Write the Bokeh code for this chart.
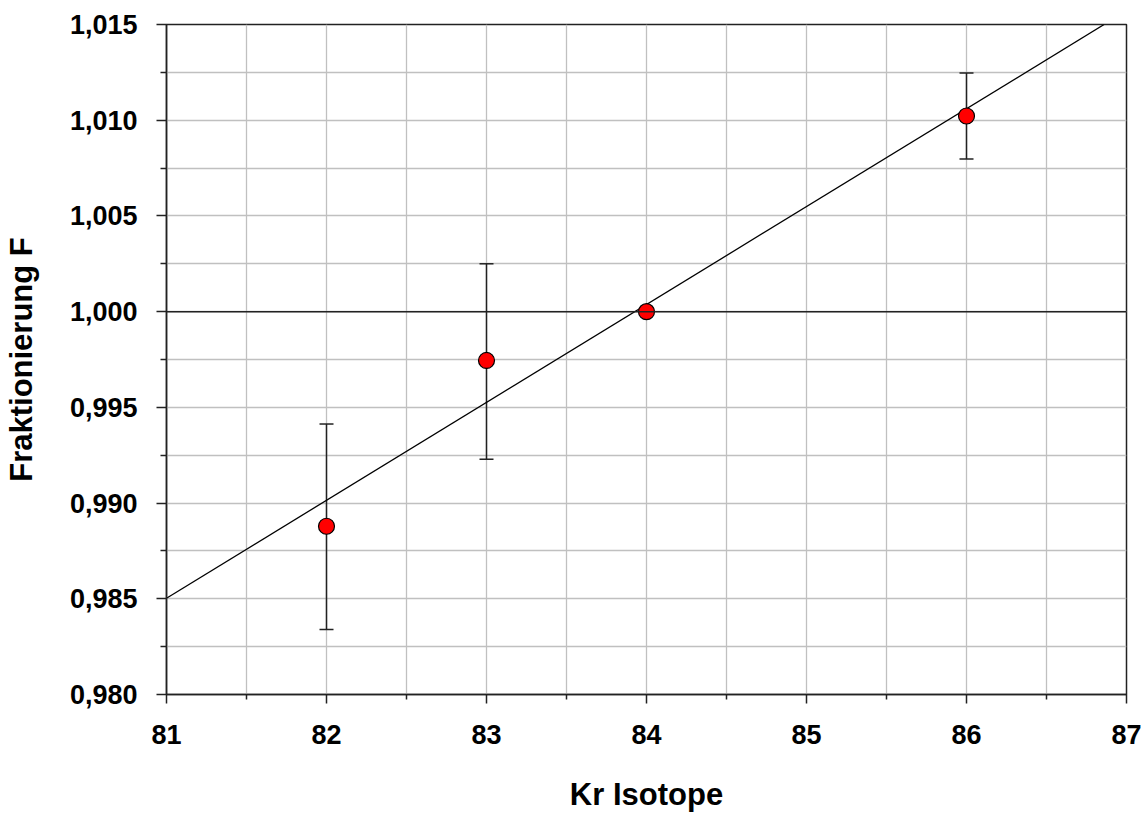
import numpy as np
from bokeh.plotting import figure
from bokeh.models import (ColumnDataSource, Whisker, TeeHead, Span, FixedTicker,
                          CustomJSTickFormatter, Range1d)
from bokeh.embed import file_html
from bokeh.resources import INLINE

# Data
isotopes = [82, 83, 84, 86]
fraction = [0.98879, 0.99745, 1.0000, 1.01022]
err_upper = [0.99413, 1.0025, 1.0000, 1.01247]
err_lower = [0.98340, 0.99229, 1.0000, 1.00797]

# Regression line endpoints
fit_x = [81.0, 86.86]
fit_y = [0.98503, 1.01500]

x_major = [81, 82, 83, 84, 85, 86, 87]
x_minor = [81.5, 82.5, 83.5, 84.5, 85.5, 86.5]
y_major = [0.980, 0.985, 0.990, 0.995, 1.000, 1.005, 1.010, 1.015]
y_minor = [0.9825, 0.9875, 0.9925, 0.9975, 1.0025, 1.0075, 1.0125]

FONT = "Liberation Sans"

p = figure(width=1147, height=814, output_backend="svg", toolbar_location=None,
           x_range=Range1d(81, 87), y_range=Range1d(0.980, 1.015),
           min_border_left=165, min_border_right=21, min_border_top=24,
           min_border_bottom=118)
p.background_fill_color = "white"
p.border_fill_color = "white"
p.outline_line_color = "#222222"
p.outline_line_width = 1.5

p.xaxis.ticker = FixedTicker(ticks=x_major, minor_ticks=x_minor)
p.yaxis.ticker = FixedTicker(ticks=y_major, minor_ticks=y_minor)
p.yaxis.formatter = CustomJSTickFormatter(code="return tick.toFixed(3).replace('.', ',');")

for ax in (p.xaxis, p.yaxis):
    ax.axis_line_color = "#222222"
    ax.axis_line_width = 1.5
    ax.major_tick_line_color = "#222222"
    ax.minor_tick_line_color = "#222222"
    ax.major_tick_line_width = 1.5
    ax.minor_tick_line_width = 1.5
    ax.major_tick_in = 0
    ax.minor_tick_in = 0
    ax.major_label_text_font = FONT
    ax.major_label_text_font_style = "bold"
    ax.major_label_text_font_size = "27px"
    ax.major_label_text_color = "black"
    ax.axis_label_text_font = FONT
    ax.axis_label_text_font_style = "bold"
    ax.axis_label_text_font_size = "31px"
    ax.axis_label_text_color = "black"

p.xaxis.major_tick_out = 9
p.xaxis.minor_tick_out = 5
p.yaxis.major_tick_out = 10
p.yaxis.minor_tick_out = 6
p.xaxis.major_label_standoff = 21
p.yaxis.major_label_standoff = 19
p.xaxis.axis_label_standoff = 30
p.yaxis.axis_label_standoff = 28
p.xaxis.axis_label = "Kr Isotope"
p.yaxis.axis_label = "Fraktionierung F"

for g in (p.xgrid, p.ygrid):
    g.grid_line_color = "#c0c0c0"
    g.grid_line_width = 1.3
    g.minor_grid_line_color = "#c0c0c0"
    g.minor_grid_line_width = 1.3

p.add_layout(Span(location=1.0, dimension="width", line_color="#222222", line_width=1.5))

p.line(fit_x, fit_y, line_color="black", line_width=1.3)

src = ColumnDataSource(dict(x=isotopes, y=fraction, upper=err_upper, lower=err_lower))
wh = Whisker(source=src, base="x", upper="upper", lower="lower",
             line_color="#222222", line_width=1.5,
             upper_head=TeeHead(size=14, line_color="#222222", line_width=1.5),
             lower_head=TeeHead(size=14, line_color="#222222", line_width=1.5))
p.add_layout(wh)

p.scatter("x", "y", source=src, size=16, fill_color="#ff0000", line_color="black",
          line_width=1.2)

open("out.html", "w").write(file_html(p, INLINE))
